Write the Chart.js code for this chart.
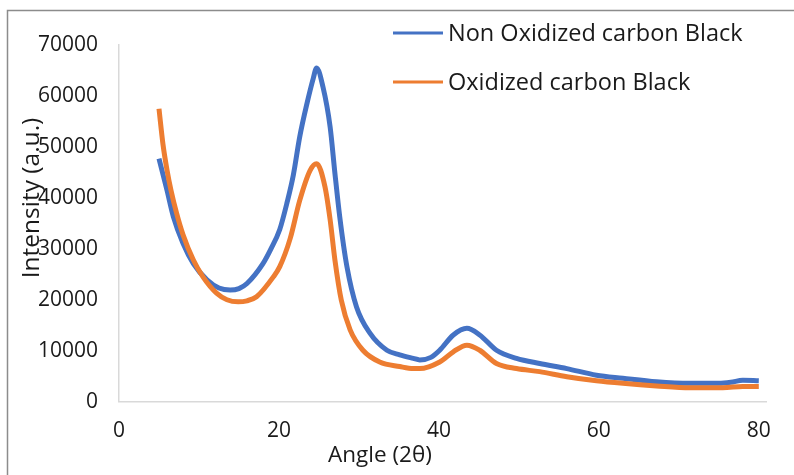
<!DOCTYPE html>
<html>
<head>
<meta charset="utf-8">
<script src="https://cdn.jsdelivr.net/npm/chart.js@4"></script>
<style>
  html, body { margin: 0; padding: 0; background: #fff; }
  #wrap { width: 794px; height: 475px; position: relative; }
</style>
</head>
<body>
<div id="wrap"><canvas id="xrd"></canvas></div>
<script>
// ── XRD patterns ──
const blueAngle = [5.0, 6.0, 6.8, 8.0, 9.3, 11.0, 12.5, 13.9, 15.0, 16.0, 18.0, 19.0, 20.1, 21.0, 21.8, 22.6, 23.5, 24.3, 24.7, 25.5, 26.4, 27.0, 27.6, 28.5, 29.7, 31.4, 33.5, 35.1, 36.8, 37.6, 39.0, 40.1, 41.8, 43.5, 45.1, 47.2, 49.7, 52.6, 56.0, 59.7, 63.0, 67.2, 71.4, 75.0, 76.5, 78.0, 80.0];
const blueInt = [47700, 41500, 36300, 31100, 27100, 23900, 22300, 21900, 22200, 23200, 27100, 30000, 33800, 39000, 44500, 52000, 58500, 63500, 65500, 61800, 53900, 44800, 36300, 26500, 18600, 13400, 10100, 9200, 8500, 8200, 8700, 10100, 13100, 14400, 13100, 10100, 8500, 7500, 6500, 5200, 4600, 3900, 3600, 3600, 3800, 4200, 4100];

const orangeAngle = [5.0, 5.5, 6.0, 6.5, 7.2, 8.0, 9.3, 10.5, 12.2, 13.5, 14.9, 16.0, 17.2, 19.3, 20.1, 21.4, 22.6, 23.9, 24.7, 25.75, 26.4, 27.0, 27.8, 28.9, 30.5, 32.6, 35.1, 36.8, 37.6, 40.1, 41.8, 43.5, 45.1, 47.2, 49.7, 52.6, 56.0, 59.7, 63.0, 67.2, 71.4, 75.5, 78.0, 80.0];
const orangeInt = [57500, 50500, 45500, 41500, 37000, 32800, 27800, 24500, 21300, 20000, 19600, 19800, 20600, 24500, 26500, 32000, 39500, 45400, 46700, 42200, 35700, 27800, 19900, 14100, 10100, 7800, 6900, 6500, 6500, 7800, 9800, 11100, 10100, 7500, 6500, 5900, 4900, 4100, 3600, 3100, 2750, 2750, 3000, 3000];

const seriesLabels = ['Non Oxidized carbon Black', 'Oxidized carbon Black'];
const xTicks = [0, 20, 40, 60, 80];
const yTicks = [0, 10000, 20000, 30000, 40000, 50000, 60000, 70000];

const COLORS = { blue: '#4472C4', orange: '#ED7D31', axis: '#D9D9D9', frame: '#8C8C8C', text: '#1A1A1A' };
const FONT = "'Open Sans', 'Noto Sans', sans-serif";

const toPoints = (xs, ys) => xs.map((x, i) => ({ x, y: ys[i] }));

// ── frame, axis titles and legend drawn on the canvas ──
const decorations = {
  id: 'decorations',
  beforeDraw(chart) {
    const { ctx } = chart;
    ctx.save();
    ctx.strokeStyle = COLORS.frame;
    ctx.lineWidth = 1.5;
    ctx.strokeRect(7.5, 10.5, 820, 500);
    ctx.restore();
  },
  afterDraw(chart) {
    const { ctx } = chart;
    ctx.save();
    ctx.fillStyle = COLORS.text;
    ctx.textAlign = 'center';
    ctx.textBaseline = 'middle';
    ctx.font = '22.5px ' + FONT;
    ctx.fillText('Angle (2θ)', 380, 456);
    ctx.translate(32, 198);
    ctx.rotate(-Math.PI / 2);
    ctx.font = '24.5px ' + FONT;
    ctx.fillText('Intensity (a.u.)', 0, 0);
    ctx.restore();

    // legend
    ctx.save();
    ctx.font = '23.5px ' + FONT;
    ctx.textBaseline = 'middle';
    ctx.textAlign = 'left';
    const rows = [33, 82];
    chart.data.datasets.forEach((ds, i) => {
      const y = rows[i];
      ctx.strokeStyle = ds.borderColor;
      ctx.lineWidth = 3;
      ctx.beginPath();
      ctx.moveTo(393, y);
      ctx.lineTo(443, y);
      ctx.stroke();
      ctx.fillStyle = COLORS.text;
      ctx.fillText(ds.label, 448, y + 1);
    });
    ctx.restore();
  }
};

new Chart(document.getElementById('xrd'), {
  type: 'scatter',
  data: {
    datasets: [
      {
        label: seriesLabels[0],
        data: toPoints(blueAngle, blueInt),
        borderColor: COLORS.blue,
        backgroundColor: COLORS.blue,
        showLine: true,
        borderWidth: 5,
        pointRadius: 0,
        cubicInterpolationMode: 'monotone',
        order: 1
      },
      {
        label: seriesLabels[1],
        data: toPoints(orangeAngle, orangeInt),
        borderColor: COLORS.orange,
        backgroundColor: COLORS.orange,
        showLine: true,
        borderWidth: 5,
        pointRadius: 0,
        cubicInterpolationMode: 'monotone',
        order: 0
      }
    ]
  },
  options: {
    responsive: true,
    maintainAspectRatio: false,
    animation: false,
    layout: { padding: { left: 0, top: 45, right: 28, bottom: 0 } },
    plugins: {
      legend: { display: false },
      tooltip: { enabled: false }
    },
    scales: {
      x: {
        type: 'linear',
        min: 0,
        max: 80.9,
        afterBuildTicks: axis => { axis.ticks = xTicks.map(v => ({ value: v })); },
        afterFit: axis => { axis.height = 73.3; },
        grid: { display: false, drawTicks: false },
        border: { display: true, color: COLORS.axis, width: 1.5 },
        ticks: { padding: 17, color: COLORS.text, font: { family: FONT, size: 21 }, maxRotation: 0 }
      },
      y: {
        type: 'linear',
        min: 0,
        max: 70000,
        afterBuildTicks: axis => { axis.ticks = yTicks.map(v => ({ value: v })); },
        afterFit: axis => { axis.width = 119; },
        grid: { display: false, drawTicks: false },
        border: { display: true, color: COLORS.axis, width: 1.5 },
        ticks: { padding: 21, color: COLORS.text, font: { family: FONT, size: 21 }, callback: v => String(v) }
      }
    }
  },
  plugins: [decorations]
});
</script>
</body>
</html>
